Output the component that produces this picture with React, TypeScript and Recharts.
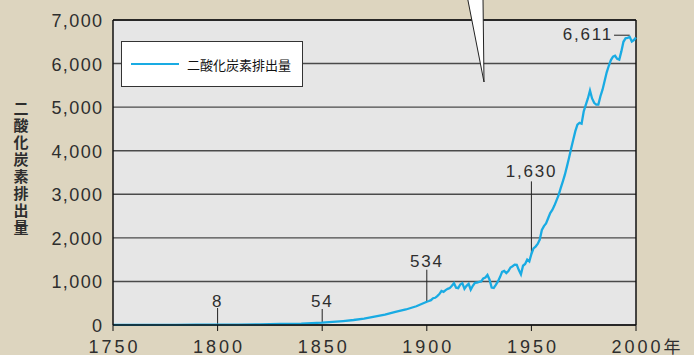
import React from 'react';
import {
  LineChart,
  Line,
  XAxis,
  YAxis,
  CartesianGrid,
  ReferenceLine,
  ReferenceDot,
  Legend,
} from 'recharts';

// Global CO2 emissions (million tonnes of carbon), by year
const years: number[] = [
  1750, 1760, 1770, 1780, 1790, 1800, 1810, 1820, 1830, 1840,
  1850, 1855, 1860, 1865, 1870, 1875, 1880, 1885, 1890, 1895,
  1900, 1901, 1902, 1903, 1904, 1905, 1906, 1907, 1908, 1909,
  1910, 1911, 1912, 1913, 1914, 1915, 1916, 1917, 1918, 1919,
  1920, 1921, 1922, 1923, 1924, 1925, 1926, 1927, 1928, 1929,
  1930, 1931, 1932, 1933, 1934, 1935, 1936, 1937, 1938, 1939,
  1940, 1941, 1942, 1943, 1944, 1945, 1946, 1947, 1948, 1949,
  1950, 1951, 1952, 1953, 1954, 1955, 1956, 1957, 1958, 1959,
  1960, 1961, 1962, 1963, 1964, 1965, 1966, 1967, 1968, 1969,
  1970, 1971, 1972, 1973, 1974, 1975, 1976, 1977, 1978, 1979,
  1980, 1981, 1982, 1983, 1984, 1985, 1986, 1987, 1988, 1989,
  1990, 1991, 1992, 1993, 1994, 1995, 1996, 1997, 1998, 1999,
  2000,
];

const emissions: number[] = [
  3, 3, 4, 5, 7, 8, 10, 14, 24, 33,
  54, 70, 91, 115, 147, 190, 236, 300, 356, 430,
  534, 550, 570, 615, 625, 665, 710, 780, 760, 800,
  830, 850, 900, 960, 855, 845, 930, 960, 830, 900,
  945, 810, 900, 970, 975, 990, 1000, 1070, 1090, 1150,
  1040, 860, 850, 920, 1000, 1100, 1220, 1240, 1190, 1240,
  1320, 1350, 1385, 1380, 1260, 1160, 1360, 1400, 1500, 1460,
  1630, 1760, 1800, 1860, 1960, 2180, 2270, 2330, 2450, 2570,
  2640, 2740, 2860, 2980, 3140, 3290, 3450, 3640, 3840, 4050,
  4250, 4450, 4600, 4640, 4620, 4900, 5050, 5200, 5380, 5200,
  5100, 5060, 5060, 5250, 5400, 5600, 5800, 5950, 6080, 6160,
  6180, 6110, 6090, 6280, 6500, 6580, 6590, 6611, 6505, 6540,
  6600,
];

const xTicks: number[] = [1750, 1800, 1850, 1900, 1950, 2000];
const yTicks: number[] = [0, 1000, 2000, 3000, 4000, 5000, 6000, 7000];

// Callouts: year, value, label text, and the value where the leader line ends
const calloutYears: number[] = [1800, 1850, 1900, 1950];
const calloutValues: number[] = [8, 54, 534, 1630];
const calloutLabels: string[] = ['8', '54', '534', '1,630'];
const calloutLineTops: number[] = [390, 367, 1269, 3296];
const calloutLabelLevels: number[] = [558, 558, 1464, 3530];

const peakYear = 1997;
const peakValue = 6611;
const peakLabel = '6,611';
const peakLeaderStart = 1989.5;

const seriesName = '二酸化炭素排出量';
const axisTitle = '二酸化炭素排出量';
const yearSuffix = '年';

const data = years.map((year, i) => ({ year, value: emissions[i] }));

const BG = '#ddd5bf';
const PLOT_BG = '#e6e6e6';
const LINE = '#19abe3';
const TEXT = '#2e2e2e';
const FONT = '"Liberation Sans", Arial, sans-serif';
const CJK = '"Noto Sans CJK JP", "Noto Sans CJK SC", sans-serif';

const YTick = (props: any) => {
  const { y, payload } = props;
  return (
    <text
      x={103.5}
      y={y}
      dy={7}
      textAnchor="end"
      fill={TEXT}
      fontSize={18}
      fontFamily={FONT}
      letterSpacing={1.4}
    >
      {payload.value.toLocaleString('en-US')}
    </text>
  );
};

const XTick = (props: any) => {
  const { x, payload } = props;
  return (
    <g>
      <text
        x={x + 1.5}
        y={353}
        textAnchor="middle"
        fill={TEXT}
        fontSize={18}
        fontFamily={FONT}
        letterSpacing={3}
      >
        {payload.value}
      </text>
      {payload.value === 2000 && (
        <text x={x + 36} y={353} textAnchor="middle" fill={TEXT} fontSize={17} fontFamily={CJK}>
          {yearSuffix}
        </text>
      )}
    </g>
  );
};

const LegendBox = () => (
  <div
    style={{
      width: 182,
      height: 46,
      boxSizing: 'border-box',
      border: '1.5px solid #333',
      background: '#fff',
      display: 'flex',
      alignItems: 'center',
      paddingLeft: 9,
    }}
  >
    <div style={{ width: 48, height: 2, background: LINE }} />
    <span
      style={{
        marginLeft: 8,
        fontFamily: CJK,
        fontSize: 13,
        color: '#111',
        lineHeight: '13px',
      }}
    >
      {seriesName}
    </span>
  </div>
);

const labelShape = (text: string, anchor: 'middle' | 'end' = 'middle', dx = 0) =>
  (p: any) => (
    <text
      x={p.cx + dx}
      y={p.cy}
      dy={6}
      textAnchor={anchor}
      fill={TEXT}
      fontSize={17}
      fontFamily={FONT}
      letterSpacing={1.8}
    >
      {text}
    </text>
  );

export default function App() {
  return (
    <div style={{ position: 'absolute', left: 0, top: 0, width: 694, height: 355, background: BG, overflow: 'hidden' }}>
      <LineChart width={694} height={355} data={data} margin={{ top: 20, right: 58, bottom: 0, left: 0 }}>
        <CartesianGrid
          horizontal
          vertical={false}
          fill={PLOT_BG}
          fillOpacity={1}
          stroke="#4a4a4a"
          strokeWidth={1.4}
        />
        <XAxis
          dataKey="year"
          type="number"
          domain={[1750, 2000]}
          ticks={xTicks}
          height={30}
          tickSize={6}
          axisLine={{ stroke: '#111', strokeWidth: 1.5 }}
          tickLine={{ stroke: '#111', strokeWidth: 1 }}
          tick={<XTick />}
          interval={0}
        />
        <YAxis
          type="number"
          domain={[0, 7000]}
          ticks={yTicks}
          width={113}
          axisLine={{ stroke: '#111', strokeWidth: 1.5 }}
          tickLine={false}
          tick={<YTick />}
          interval={0}
        />
        <ReferenceLine x={2000} stroke="#111" strokeWidth={1.5} />
        <ReferenceLine y={7000} stroke="#111" strokeWidth={1.5} />
        {calloutYears.map((yr, i) => (
          <ReferenceLine
            key={`cl-${yr}`}
            segment={[
              { x: yr, y: calloutValues[i] },
              { x: yr, y: calloutLineTops[i] },
            ]}
            stroke="#222"
            strokeWidth={1}
            ifOverflow="visible"
          />
        ))}
        <ReferenceLine
          segment={[
            { x: peakLeaderStart, y: peakValue + 40 },
            { x: peakYear, y: peakValue + 40 },
          ]}
          stroke="#222"
          strokeWidth={1}
        />
        <Line
          type="linear"
          dataKey="value"
          name={seriesName}
          stroke={LINE}
          strokeWidth={2.3}
          dot={false}
          isAnimationActive={false}
        />
        {calloutYears.map((yr, i) => (
          <ReferenceDot
            key={`lb-${yr}`}
            x={yr}
            y={calloutLabelLevels[i]}
            r={0}
            shape={labelShape(calloutLabels[i])}
            ifOverflow="visible"
          />
        ))}
        <ReferenceDot
          x={peakLeaderStart}
          y={peakValue + 60}
          r={0}
          shape={labelShape(peakLabel, 'end', -1)}
          ifOverflow="visible"
        />
        <Legend
          layout="horizontal"
          verticalAlign="middle"
          align="center"
          content={<LegendBox />}
          wrapperStyle={{ position: 'absolute', top: 41, left: 121, width: 182, height: 46 }}
        />
      </LineChart>
      <svg
        width={694}
        height={355}
        style={{ position: 'absolute', left: 0, top: 0, pointerEvents: 'none' }}
      >
        <polygon points="467.5,-2 483,-2 484,82" fill="#fff" stroke="#222" strokeWidth={1} />
        <text
          x={21}
          y={101}
          fontSize={15}
          fontWeight={700}
          fontFamily={CJK}
          fill={TEXT}
          letterSpacing={2}
          style={{ writingMode: 'vertical-rl' }}
        >
          {axisTitle}
        </text>
      </svg>
    </div>
  );
}
